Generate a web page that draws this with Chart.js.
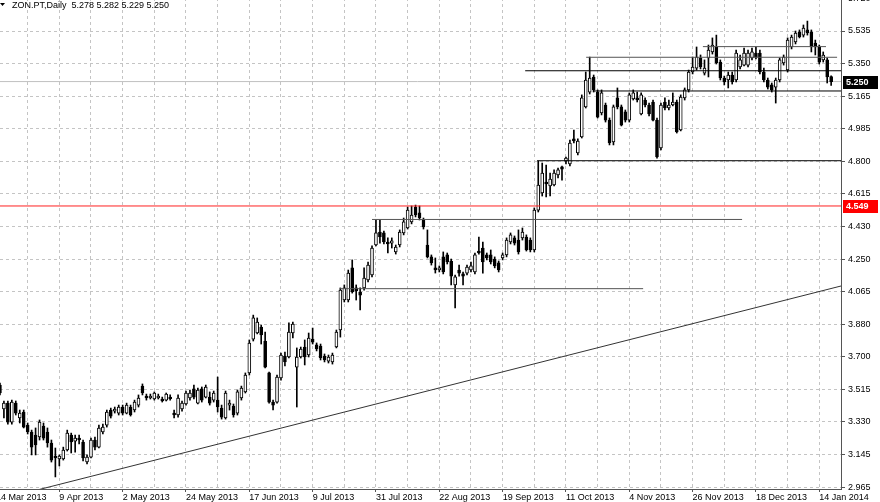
<!DOCTYPE html>
<html>
<head>
<meta charset="utf-8">
<script src="https://cdn.jsdelivr.net/npm/chart.js@4.4.0/dist/chart.umd.min.js"></script>
<style>
html, body { margin: 0; padding: 0; background: #fff; overflow: hidden; }
#wrap { position: absolute; left: -6px; top: -2px; width: 886px; height: 504px; }
</style>
</head>
<body>
<div id="wrap"><canvas id="chart" width="886" height="504"></canvas></div>
<script>
const symbol = 'ZON.PT,Daily';
const lastQuote = ['5.278', '5.282', '5.229', '5.250'];
const firstBar = 1; // bar 0 = 14 Mar 2013

const opens = [
  3.540, 3.405, 3.438, 3.331, 3.438, 3.354, 3.388, 3.314, 3.275, 3.258,
  3.247, 3.309, 3.275, 3.213, 3.140, 3.123, 3.123, 3.174, 3.258, 3.224,
  3.241, 3.219, 3.106, 3.134, 3.230, 3.190, 3.275, 3.314, 3.399, 3.393,
  3.382, 3.416, 3.382, 3.416, 3.399, 3.427, 3.534, 3.478, 3.467, 3.461,
  3.467, 3.461, 3.455, 3.472, 3.382, 3.371, 3.405, 3.433, 3.467, 3.518,
  3.438, 3.518, 3.472, 3.472, 3.455, 3.455, 3.410, 3.354, 3.427, 3.421,
  3.382, 3.467, 3.501, 3.608, 3.799, 3.833, 3.867, 3.788, 3.608, 3.444,
  3.444, 3.580, 3.703, 3.698, 3.833, 3.641, 3.698, 3.754, 3.709, 3.799,
  3.766, 3.760, 3.703, 3.675, 3.670, 3.754, 3.850, 4.019, 4.019, 4.200,
  4.087, 4.064, 4.087, 4.132, 4.160, 4.329, 4.402, 4.397, 4.346, 4.340,
  4.290, 4.329, 4.397, 4.425, 4.459, 4.543, 4.510, 4.470, 4.329, 4.262,
  4.200, 4.188, 4.262, 4.273, 4.239, 4.104, 4.188, 4.166, 4.171, 4.188,
  4.177, 4.295, 4.312, 4.273, 4.273, 4.250, 4.228, 4.256, 4.273, 4.346,
  4.369, 4.357, 4.369, 4.374, 4.357, 4.301, 4.526, 4.622, 4.684, 4.662,
  4.667, 4.724, 4.769, 4.802, 4.786, 4.927, 4.848, 4.938, 5.107, 5.191,
  5.276, 5.191, 5.073, 5.118, 5.033, 4.910, 5.158, 5.107, 5.079, 5.033,
  5.152, 5.158, 5.068, 5.146, 5.118, 5.135, 5.033, 4.876, 5.135, 5.101,
  5.118, 5.135, 4.977, 5.158, 5.203, 5.304, 5.326, 5.383, 5.298, 5.383,
  5.417, 5.445, 5.360, 5.270, 5.259, 5.287, 5.259, 5.332, 5.343, 5.343,
  5.383, 5.411, 5.411, 5.304, 5.259, 5.231, 5.219, 5.259, 5.355, 5.315,
  5.445, 5.473, 5.529, 5.512, 5.541, 5.529, 5.467, 5.445, 5.372, 5.372,
  5.278
];
const highs = [
  3.551, 3.450, 3.450, 3.455, 3.450, 3.399, 3.399, 3.326, 3.286, 3.298,
  3.343, 3.326, 3.298, 3.230, 3.185, 3.146, 3.190, 3.286, 3.269, 3.258,
  3.258, 3.230, 3.146, 3.241, 3.247, 3.314, 3.320, 3.399, 3.410, 3.416,
  3.427, 3.427, 3.438, 3.427, 3.455, 3.484, 3.546, 3.489, 3.489, 3.501,
  3.489, 3.472, 3.495, 3.484, 3.399, 3.484, 3.450, 3.506, 3.512, 3.540,
  3.523, 3.529, 3.540, 3.501, 3.506, 3.585, 3.427, 3.506, 3.455, 3.433,
  3.512, 3.534, 3.608, 3.794, 3.934, 3.918, 3.878, 3.839, 3.613, 3.455,
  3.596, 3.720, 3.726, 3.890, 3.895, 3.749, 3.754, 3.794, 3.833, 3.861,
  3.777, 3.771, 3.715, 3.709, 3.720, 3.850, 4.087, 4.104, 4.188, 4.245,
  4.104, 4.087, 4.200, 4.233, 4.324, 4.470, 4.470, 4.408, 4.369, 4.369,
  4.329, 4.414, 4.481, 4.543, 4.549, 4.554, 4.549, 4.481, 4.414, 4.273,
  4.256, 4.211, 4.290, 4.284, 4.250, 4.160, 4.216, 4.177, 4.216, 4.233,
  4.284, 4.374, 4.346, 4.284, 4.301, 4.262, 4.239, 4.284, 4.369, 4.397,
  4.380, 4.414, 4.425, 4.386, 4.369, 4.538, 4.802, 4.791, 4.780, 4.735,
  4.752, 4.763, 4.774, 4.825, 4.921, 4.977, 4.927, 5.175, 5.304, 5.388,
  5.287, 5.203, 5.203, 5.129, 5.045, 5.118, 5.214, 5.118, 5.090, 5.186,
  5.203, 5.191, 5.186, 5.158, 5.129, 5.146, 5.045, 5.129, 5.158, 5.146,
  5.186, 5.146, 5.175, 5.214, 5.315, 5.388, 5.445, 5.400, 5.372, 5.456,
  5.496, 5.512, 5.372, 5.281, 5.304, 5.304, 5.428, 5.400, 5.439, 5.428,
  5.439, 5.445, 5.428, 5.326, 5.270, 5.242, 5.270, 5.383, 5.400, 5.496,
  5.512, 5.535, 5.541, 5.569, 5.591, 5.541, 5.484, 5.456, 5.417, 5.383,
  5.282
];
const lows = [
  3.484, 3.354, 3.320, 3.320, 3.371, 3.326, 3.298, 3.264, 3.146, 3.146,
  3.230, 3.230, 3.190, 3.106, 3.022, 3.084, 3.117, 3.168, 3.157, 3.162,
  3.208, 3.112, 3.095, 3.129, 3.174, 3.185, 3.264, 3.303, 3.354, 3.382,
  3.371, 3.371, 3.377, 3.365, 3.388, 3.416, 3.484, 3.455, 3.461, 3.455,
  3.461, 3.444, 3.450, 3.455, 3.354, 3.359, 3.393, 3.427, 3.455, 3.461,
  3.433, 3.444, 3.467, 3.427, 3.444, 3.388, 3.348, 3.348, 3.399, 3.359,
  3.371, 3.455, 3.495, 3.596, 3.788, 3.828, 3.771, 3.636, 3.438, 3.399,
  3.438, 3.568, 3.647, 3.692, 3.805, 3.416, 3.692, 3.653, 3.698, 3.771,
  3.732, 3.681, 3.670, 3.664, 3.658, 3.749, 3.810, 4.008, 4.008, 4.058,
  4.019, 3.963, 4.075, 4.121, 4.149, 4.324, 4.340, 4.335, 4.284, 4.312,
  4.278, 4.318, 4.386, 4.419, 4.448, 4.487, 4.470, 4.419, 4.256, 4.216,
  4.171, 4.177, 4.166, 4.222, 4.104, 3.974, 4.154, 4.104, 4.160, 4.177,
  4.166, 4.278, 4.171, 4.245, 4.222, 4.200, 4.177, 4.245, 4.262, 4.335,
  4.329, 4.278, 4.357, 4.295, 4.290, 4.290, 4.515, 4.605, 4.600, 4.605,
  4.662, 4.707, 4.695, 4.786, 4.774, 4.904, 4.836, 4.932, 5.101, 5.180,
  5.191, 5.045, 5.062, 5.022, 4.893, 4.893, 5.096, 5.000, 5.022, 5.022,
  5.146, 5.135, 5.062, 5.107, 5.056, 5.028, 4.819, 4.865, 5.090, 5.090,
  5.113, 4.960, 4.972, 5.146, 5.191, 5.293, 5.315, 5.321, 5.287, 5.276,
  5.405, 5.349, 5.259, 5.231, 5.214, 5.236, 5.248, 5.321, 5.338, 5.332,
  5.372, 5.377, 5.293, 5.248, 5.208, 5.191, 5.129, 5.248, 5.343, 5.304,
  5.434, 5.462, 5.496, 5.501, 5.512, 5.417, 5.400, 5.349, 5.360, 5.242,
  5.229
];
const closes = [
  3.495, 3.438, 3.331, 3.444, 3.382, 3.382, 3.303, 3.275, 3.190, 3.202,
  3.331, 3.241, 3.213, 3.117, 3.129, 3.140, 3.174, 3.269, 3.219, 3.241,
  3.230, 3.129, 3.134, 3.230, 3.190, 3.298, 3.303, 3.388, 3.365, 3.405,
  3.416, 3.382, 3.427, 3.371, 3.444, 3.467, 3.495, 3.467, 3.478, 3.495,
  3.478, 3.450, 3.489, 3.461, 3.371, 3.467, 3.438, 3.495, 3.495, 3.472,
  3.512, 3.455, 3.529, 3.438, 3.495, 3.416, 3.359, 3.495, 3.438, 3.371,
  3.501, 3.523, 3.596, 3.777, 3.918, 3.895, 3.822, 3.641, 3.444, 3.427,
  3.585, 3.709, 3.670, 3.839, 3.884, 3.698, 3.743, 3.698, 3.805, 3.782,
  3.743, 3.692, 3.681, 3.698, 3.709, 3.839, 4.075, 4.087, 4.171, 4.064,
  4.070, 4.047, 4.143, 4.216, 4.312, 4.397, 4.374, 4.346, 4.335, 4.352,
  4.318, 4.402, 4.459, 4.526, 4.498, 4.498, 4.481, 4.431, 4.262, 4.228,
  4.188, 4.200, 4.177, 4.233, 4.154, 4.149, 4.171, 4.154, 4.205, 4.211,
  4.273, 4.284, 4.233, 4.256, 4.233, 4.211, 4.188, 4.273, 4.357, 4.386,
  4.340, 4.290, 4.402, 4.301, 4.301, 4.526, 4.667, 4.735, 4.673, 4.701,
  4.735, 4.752, 4.757, 4.819, 4.904, 4.915, 4.915, 5.158, 5.259, 5.270,
  5.203, 5.050, 5.186, 5.033, 4.904, 5.107, 5.107, 5.005, 5.033, 5.175,
  5.186, 5.146, 5.175, 5.118, 5.068, 5.033, 4.825, 5.118, 5.101, 5.118,
  5.135, 4.966, 5.163, 5.203, 5.304, 5.332, 5.388, 5.332, 5.326, 5.428,
  5.456, 5.355, 5.270, 5.248, 5.287, 5.248, 5.411, 5.372, 5.411, 5.411,
  5.417, 5.388, 5.304, 5.259, 5.219, 5.203, 5.259, 5.372, 5.388, 5.484,
  5.501, 5.524, 5.501, 5.552, 5.524, 5.445, 5.445, 5.360, 5.400, 5.276,
  5.250
];

// one date label every 16 bars, grid every 8
const dateLabels = ['14 Mar 2013', '9 Apr 2013', '2 May 2013', '24 May 2013', '17 Jun 2013',
  '9 Jul 2013', '31 Jul 2013', '22 Aug 2013', '19 Sep 2013', '11 Oct 2013',
  '4 Nov 2013', '26 Nov 2013', '18 Dec 2013', '14 Jan 2014'];
const dateStep = 16;
const gridStep = 8;

const priceTicks = [2.965, 3.1486, 3.3321, 3.5157, 3.6993, 3.8829, 4.0664, 4.2500,
  4.4336, 4.6171, 4.8007, 4.9843, 5.1679, 5.3514, 5.5350, 5.7186];
const priceLabels = ['2.965', '3.145', '3.330', '3.515', '3.700', '3.880', '4.065', '4.250',
  '4.430', '4.615', '4.800', '4.985', '5.165', '5.350', '5.535', '5.720'];

// drawn horizontal levels: price, first bar, last bar
const levelPrices = [4.083, 4.473, 4.804, 5.197, 5.311, 5.387, 5.447];
const levelFrom = [86.9, 95.0, 136.7, 150.8, 133.7, 149.1, 178.6];
const levelTo = [163.5, 188.5, 213.5, 213.5, 213.5, 212.5, 209.7];
const levelColors = ['#555', '#555', '#000', '#000', '#000', '#555', '#555'];

const trendBars = [10, 213.5];
const trendPrices = [2.946, 4.098];

const bidPrice = 5.250;
const alertPrice = 4.549;

const xMin = -0.505, xMax = 213.49;
const yMin = 2.954, yMax = 5.721;
const axisFont = { family: 'Liberation Sans', size: 9 };

const bodies = [], wicks = [], fills = [];
opens.forEach((o, i) => {
  const x = i + firstBar, c = closes[i];
  bodies.push({ x: x, y: [Math.min(o, c), Math.max(o, c)] });
  wicks.push({ x: x, y: [lows[i], highs[i]] });
  fills.push(c >= o ? '#ffffff' : '#000000');
});

const lineSet = (pts, color, width, order) => ({
  type: 'line', data: pts, borderColor: color, borderWidth: width,
  pointRadius: 0, fill: false, tension: 0, order: order
});

const datasets = [
  { type: 'bar', data: bodies, backgroundColor: fills, borderColor: '#000', borderWidth: 1,
    borderSkipped: false, barThickness: 3, minBarLength: 1, grouped: false, order: 1 },
  { type: 'bar', data: wicks, backgroundColor: '#000', borderWidth: 0,
    barThickness: 1, grouped: false, order: 2 },
  lineSet([{ x: xMin, y: bidPrice }, { x: xMax, y: bidPrice }], '#c0c0c0', 1, 3),
  lineSet([{ x: xMin, y: alertPrice }, { x: xMax, y: alertPrice }], '#ff2020', 1, 0),
  lineSet(trendBars.map((b, i) => ({ x: b, y: trendPrices[i] })), '#333', 1, 0)
];
levelPrices.forEach((p, i) => {
  datasets.push(lineSet([{ x: levelFrom[i], y: p }, { x: levelTo[i], y: p }], levelColors[i], 1, 0));
});

const overlay = {
  id: 'overlay',
  afterDraw(chart) {
    const ctx = chart.ctx, y = chart.scales.y, area = chart.chartArea;
    ctx.save();
    // symbol header
    ctx.fillStyle = '#000';
    ctx.beginPath();
    ctx.moveTo(6, 5); ctx.lineTo(11, 5); ctx.lineTo(8.5, 8); ctx.closePath(); ctx.fill();
    ctx.font = '9px "Liberation Sans"';
    ctx.textBaseline = 'top';
    ctx.fillText(symbol + '  ' + lastQuote.join(' '), 18, 3);
    // price tags on the axis
    const tag = (price, bg) => {
      const py = Math.round(y.getPixelForValue(price));
      ctx.fillStyle = bg;
      ctx.fillRect(area.right + 2, py - 6, 35, 13);
      ctx.fillStyle = '#fff';
      ctx.font = 'bold 9px "Liberation Sans"';
      ctx.textBaseline = 'middle';
      ctx.fillText(price.toFixed(3), area.right + 5, py + 0.5);
    };
    tag(bidPrice, '#000');
    tag(alertPrice, '#ff0000');
    ctx.restore();
  }
};

new Chart(document.getElementById('chart'), {
  type: 'bar',
  data: { datasets: datasets },
  plugins: [overlay],
  options: {
    responsive: false,
    devicePixelRatio: 1,
    animation: false,
    events: [],
    layout: { padding: 0 },
    plugins: { legend: { display: false }, tooltip: { enabled: false }, title: { display: false } },
    scales: {
      x: {
        type: 'linear', min: xMin, max: xMax, offset: false,
        afterBuildTicks: s => {
          s.ticks = [];
          for (let k = 0; k <= dateStep * (dateLabels.length - 1); k += gridStep) s.ticks.push({ value: k });
        },
        afterFit: s => { s.height = 13; s.paddingLeft = 0; s.paddingRight = 0; },
        ticks: {
          autoSkip: false, maxRotation: 0, minRotation: 0, align: 'start', padding: 0,
          color: '#000', font: axisFont,
          callback: v => (v % dateStep === 0 ? dateLabels[v / dateStep] : '')
        },
        grid: {
          offset: false, color: '#c4c4c4', lineWidth: 1, tickLength: 3,
          tickColor: c => (c.tick && c.tick.value % dateStep === 0 ? '#555' : 'rgba(0,0,0,0)')
        },
        border: { display: true, color: '#555', width: 1, dash: [3, 3] }
      },
      y: {
        position: 'right', min: yMin, max: yMax,
        afterBuildTicks: s => { s.ticks = priceTicks.map(v => ({ value: v })); },
        afterFit: s => { s.width = 39; s.paddingTop = 0; s.paddingBottom = 0; },
        ticks: {
          autoSkip: false, padding: 3, color: '#000', font: axisFont,
          callback: (v, i) => priceLabels[i]
        },
        grid: { color: '#c4c4c4', lineWidth: 1, tickLength: 4, tickColor: '#555' },
        border: { display: true, color: '#555', width: 1, dash: [3, 3] }
      }
    }
  }
});
</script>
</body>
</html>
